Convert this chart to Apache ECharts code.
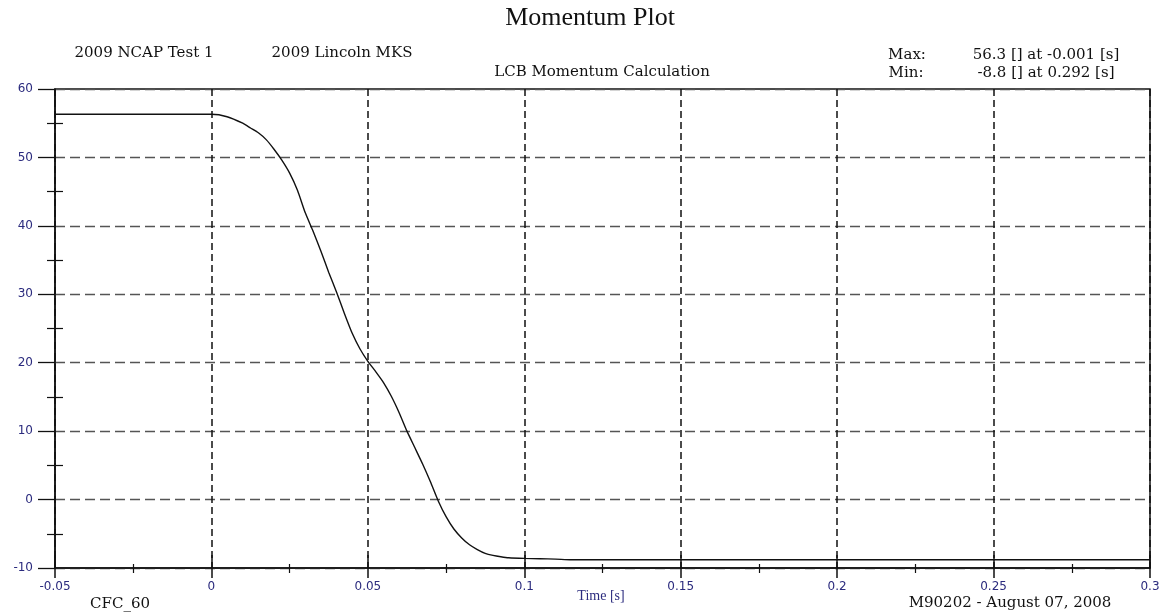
<!DOCTYPE html>
<html>
<head>
<meta charset="utf-8">
<script src="https://cdn.jsdelivr.net/npm/echarts@6/dist/echarts.min.js"></script>
<style>
html,body{margin:0;padding:0;background:#fff;}
#chart{width:1167px;height:615px;}
</style>
</head>
<body>
<div id="chart"></div>
<script>
// ---- data ----
const timeValues = [-0.05, -0.001, 0, 0.005, 0.01, 0.0125, 0.015, 0.0175, 0.02, 0.0225, 0.025, 0.0275,
  0.03, 0.0325, 0.035, 0.0375, 0.04, 0.0425, 0.045, 0.0475, 0.05, 0.0525, 0.055, 0.0575, 0.06,
  0.0625, 0.065, 0.0675, 0.07, 0.0725, 0.075, 0.0775, 0.08, 0.0825, 0.085, 0.0875, 0.09, 0.0925,
  0.095, 0.1, 0.105, 0.11, 0.115, 0.2, 0.292, 0.3];
const momentumValues = [56.3, 56.3, 56.3, 55.95, 55.0, 54.3, 53.6, 52.6, 51.2, 49.6, 47.7, 45.2,
  41.9, 39.2, 36.3, 33.2, 30.3, 27.2, 24.3, 22.0, 20.2, 18.7, 17.1, 15.1, 12.7,
  10.0, 7.6, 5.2, 2.6, -0.2, -2.5, -4.3, -5.6, -6.6, -7.3, -7.85, -8.15, -8.35,
  -8.5, -8.6, -8.65, -8.7, -8.8, -8.8, -8.8, -8.8];
const xTicks = { min: -0.05, max: 0.3, interval: 0.05 };
const yTicks = { min: -10, max: 60, interval: 10 };
const titleText = 'Momentum Plot';
const headerLeft = ['2009 NCAP Test 1', '2009 Lincoln MKS'];
const subTitle = 'LCB Momentum Calculation';
const maxLabel = ['Max:', '56.3 [] at -0.001 [s]'];
const minLabel = ['Min:', '-8.8 [] at 0.292 [s]'];
const xAxisName = 'Time [s]';
const footerLeft = 'CFC_60';
const footerRight = 'M90202 - August 07, 2008';

const seriesData = timeValues.map((t, i) => [t, momentumValues[i]]);

const navy = '#2b2b7e';
const serif = '"DejaVu Serif", serif';
const axisLabelStyle = { color: navy, fontFamily: '"DejaVu Sans", sans-serif', fontSize: 12 };

const chart = echarts.init(document.getElementById('chart'));

function txt(x, y, text, opts) {
  return {
    type: 'text', x: x, y: y,
    style: Object.assign({ text: text, fill: '#111', font: '15px ' + serif, textAlign: 'center', textVerticalAlign: 'middle' }, opts || {})
  };
}

chart.setOption({
  animation: false,
  backgroundColor: '#fff',
  grid: { left: 55, right: 17, top: 89, bottom: 47, show: true, borderColor: '#111', borderWidth: 1.5, outerBoundsMode: 'none', containLabel: false },
  xAxis: [
    {
      type: 'value', position: 'bottom', min: xTicks.min, max: xTicks.max, interval: xTicks.interval,
      axisLine: { show: true, onZero: false, lineStyle: { color: '#111', width: 1.5 } },
      axisTick: { show: true, inside: false, length: 10, lineStyle: { color: '#111', width: 1.5 } },
      minorTick: { show: true, splitNumber: 2, length: 5, lineStyle: { color: '#111', width: 1.2 } },
      axisLabel: Object.assign({ margin: 13, showMinLabel: true, showMaxLabel: true, hideOverlap: false }, axisLabelStyle),
      splitLine: { show: true, lineStyle: { color: '#111', width: 1.5, type: [7, 4] } }
    },
    {
      type: 'value', position: 'bottom', min: xTicks.min, max: xTicks.max, interval: xTicks.interval,
      axisLine: { show: false, onZero: false },
      axisTick: { show: true, inside: true, length: 13, lineStyle: { color: '#111', width: 1.5 } },
      minorTick: { show: true, splitNumber: 2, length: 4, lineStyle: { color: '#111', width: 1.2 } },
      axisLabel: { show: false },
      splitLine: { show: false }
    }
  ],
  yAxis: [
    {
      type: 'value', position: 'left', min: yTicks.min, max: yTicks.max, interval: yTicks.interval,
      axisLine: { show: true, onZero: false, lineStyle: { color: '#111', width: 1.5 } },
      axisTick: { show: true, inside: false, length: 17, lineStyle: { color: '#111', width: 1.3 } },
      minorTick: { show: true, splitNumber: 2, length: 8, lineStyle: { color: '#111', width: 1.2 } },
      axisLabel: Object.assign({ margin: 22, showMinLabel: true, showMaxLabel: true, hideOverlap: false }, axisLabelStyle),
      splitLine: { show: true, lineStyle: { color: '#555', width: 1.3, type: [10, 5] } }
    },
    {
      type: 'value', position: 'left', offset: 0, min: yTicks.min, max: yTicks.max, interval: yTicks.interval,
      axisLine: { show: false, onZero: false },
      axisTick: { show: false, inside: true },
      minorTick: { show: true, splitNumber: 2, length: 8, lineStyle: { color: '#111', width: 1.2 } },
      axisLabel: { show: false },
      splitLine: { show: false }
    }
  ],
  series: [{
    type: 'line', xAxisIndex: 0, yAxisIndex: 0,
    data: seriesData, showSymbol: false, symbol: 'none',
    smooth: 0.2,
    lineStyle: { color: '#111', width: 1.4 },
    z: 5
  }],
  graphic: [
    txt(590, 18, titleText, { font: '26px "Liberation Serif", serif' }),
    txt(144, 53, headerLeft[0]),
    txt(342, 53, headerLeft[1]),
    txt(602, 72, subTitle),
    txt(907, 55, maxLabel[0]),
    txt(1046, 55, maxLabel[1]),
    txt(906, 73, minLabel[0]),
    txt(1046, 73, minLabel[1]),
    txt(601, 596, xAxisName, { fill: navy, font: '14px "Liberation Serif", serif' }),
    txt(120, 604, footerLeft),
    txt(1010, 603, footerRight)
  ]
});
</script>
</body>
</html>
